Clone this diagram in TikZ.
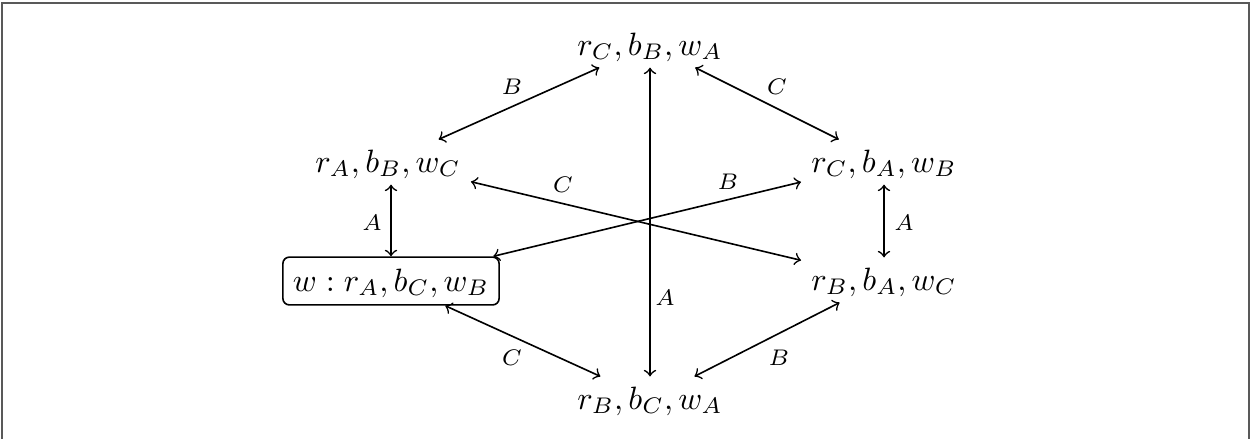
\documentclass[tikz,border=0pt]{standalone}
\usetikzlibrary{arrows}
\begin{document}
\begin{tikzpicture}[x=0.3096pt,y=-0.3096pt,
  st/.style={inner xsep=3pt,inner ysep=1.2pt,text height=8.7pt,text depth=2.5pt},
  wbox/.style={draw,rounded corners=2pt,inner xsep=3.1pt,inner ysep=1.8pt,text height=8.7pt,text depth=2.5pt,line width=0.5pt},
  arr/.style={<->,>=to,line width=0.5pt},
  lbl/.style={font=\fontsize{7.3}{9}\selectfont,inner sep=0pt}]
\useasboundingbox (0,0) rectangle (1254,438);
\clip (0,0) rectangle (1254,438);
\draw[black!65,line width=0.6pt] (2,3) rectangle (1249,460);
\node[st] (top) at (650,45) {$r_C, b_B, w_A$};
\node[st] (lt) at (388,162) {$r_A, b_B, w_C$};
\node[st] (rt) at (884,162) {$r_C, b_A, w_B$};
\node[wbox] (w) at (391,281) {$w: r_A, b_C, w_B$};
\node[st] (rb) at (884,280) {$r_B, b_A, w_C$};
\node[st] (bot) at (650,399) {$r_B, b_C, w_A$};
\draw[arr] (lt) -- (top);
\draw[arr] (top) -- (rt);
\draw[arr] (w) -- (bot);
\draw[arr] (bot) -- (rb);
\draw[arr] (lt) -- (rb);
\draw[arr] (w) -- (rt);
\draw[arr] (top) -- (bot);
\draw[arr] (lt.south -| w.north) -- (w.north);
\draw[arr] (rt) -- (rb);
\node[lbl] (l1) at (512,87) {$B$};
\node[lbl] (l2) at (777,87) {$C$};
\node[lbl] (l3) at (512,358) {$C$};
\node[lbl] (l4) at (779,358) {$B$};
\node[lbl] (l5) at (563,185) {$C$};
\node[lbl] (l6) at (728,182) {$B$};
\node[lbl] (l7) at (665,298) {$A$};
\node[lbl] (l8) at (372,223) {$A$};
\node[lbl] (l9) at (904,223) {$A$};
\end{tikzpicture}
\end{document}
